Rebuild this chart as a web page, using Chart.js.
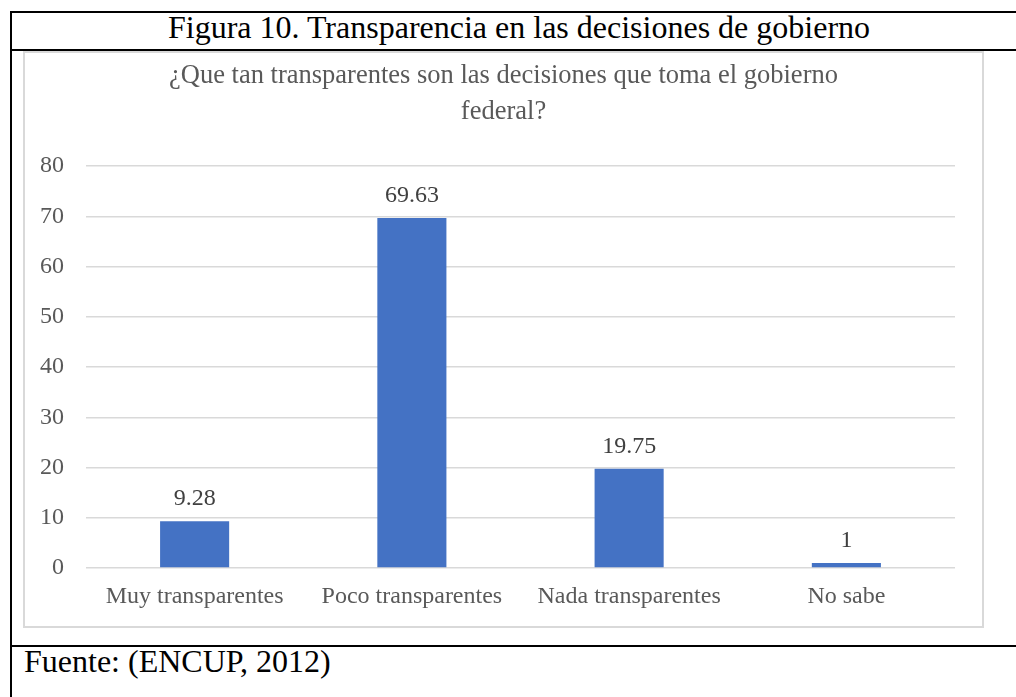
<!DOCTYPE html>
<html>
<head>
<meta charset="utf-8">
<script src="https://cdn.jsdelivr.net/npm/chart.js@4"></script>
<style>
  body { margin: 0; background: #fff; overflow: hidden; width: 1016px; height: 697px; position: relative; font-family: "Liberation Serif", "Times New Roman", serif; }
  .line { position: absolute; background: #000; }
  .fig-title { position: absolute; left: 10px; width: 1018px; top: 11px; font-size: 32px; line-height: 32px; text-align: center; color: #000; white-space: nowrap; }
  .source { position: absolute; left: 24px; top: 645px; font-size: 32px; line-height: 32px; color: #000; white-space: nowrap; }
  .chart-box { position: absolute; left: 23px; top: 51px; width: 961px; height: 577px; border: 2px solid #d9d9d9; box-sizing: border-box; }
  .chart-box canvas { position: absolute; left: 0; top: 0; }
</style>
</head>
<body>
<div class="line" style="left:10px; top:11px; width:1030px; height:2px;"></div>
<div class="line" style="left:10px; top:11px; width:2px; height:700px;"></div>
<div class="fig-title">Figura 10. Transparencia en las decisiones de gobierno</div>
<div class="chart-box"><canvas id="chart" width="957" height="573"></canvas></div>
<div class="line" style="left:10px; top:49px; width:1030px; height:2px;"></div>
<div class="line" style="left:10px; top:645px; width:1030px; height:2px;"></div>
<div class="source">Fuente: (ENCUP, 2012)</div>

<script>
const categories = ["Muy transparentes", "Poco transparentes", "Nada transparentes", "No sabe"];
const values = [9.28, 69.63, 19.75, 1];
const yMin = 0;
const yMax = 80;
const yStep = 10;
const chartTitle = ["¿Que tan transparentes son las decisiones que toma el gobierno", "federal?"];

const serif = '"Liberation Serif", "Times New Roman", serif';

// draws the value above each bar
const barValueLabels = {
  id: 'barValueLabels',
  afterDatasetsDraw(chart) {
    const ctx = chart.ctx;
    const meta = chart.getDatasetMeta(0);
    ctx.save();
    ctx.font = '24px ' + serif;
    ctx.fillStyle = '#404040';
    ctx.textAlign = 'center';
    ctx.textBaseline = 'alphabetic';
    meta.data.forEach((bar, i) => {
      ctx.fillText(String(values[i]), bar.x, bar.y - 16);
    });
    ctx.restore();
  }
};

// centre the chart title on the whole canvas, not the padded area
const fullWidthTitle = {
  id: 'fullWidthTitle',
  afterLayout(chart) {
    if (chart.titleBlock) {
      chart.titleBlock.left = 0;
      chart.titleBlock.right = chart.width;
    }
  }
};

function renderChart() {
  const ctx = document.getElementById('chart').getContext('2d');
  new Chart(ctx, {
    type: 'bar',
    data: {
      labels: categories,
      datasets: [{
        data: values,
        backgroundColor: '#4472C4',
        categoryPercentage: 1,
        barPercentage: 0.318
      }]
    },
    options: {
      responsive: false,
      animation: false,
      layout: { padding: { left: 0, right: 27, top: 0, bottom: 0 } },
      plugins: {
        legend: { display: false },
        tooltip: { enabled: false },
        title: {
          display: true,
          text: chartTitle,
          color: '#595959',
          font: { family: serif, size: 26.5, weight: 'normal', lineHeight: 36 / 26.5 },
          padding: { top: 5, bottom: 36 }
        }
      },
      scales: {
        x: {
          grid: { display: false, drawTicks: false },
          border: { display: false },
          ticks: { color: '#595959', font: { family: serif, size: 24 }, padding: 14, maxRotation: 0 },
          afterFit(scale) { scale.height = 58; }
        },
        y: {
          min: yMin,
          max: yMax,
          grid: { color: '#d9d9d9', lineWidth: 1.5, drawTicks: false },
          border: { display: false },
          ticks: { stepSize: yStep, color: '#595959', font: { family: serif, size: 24 }, padding: 22 },
          afterFit(scale) { scale.width = 61; }
        }
      }
    },
    plugins: [barValueLabels, fullWidthTitle]
  });
}

window.onload = renderChart;
</script>
</body>
</html>
